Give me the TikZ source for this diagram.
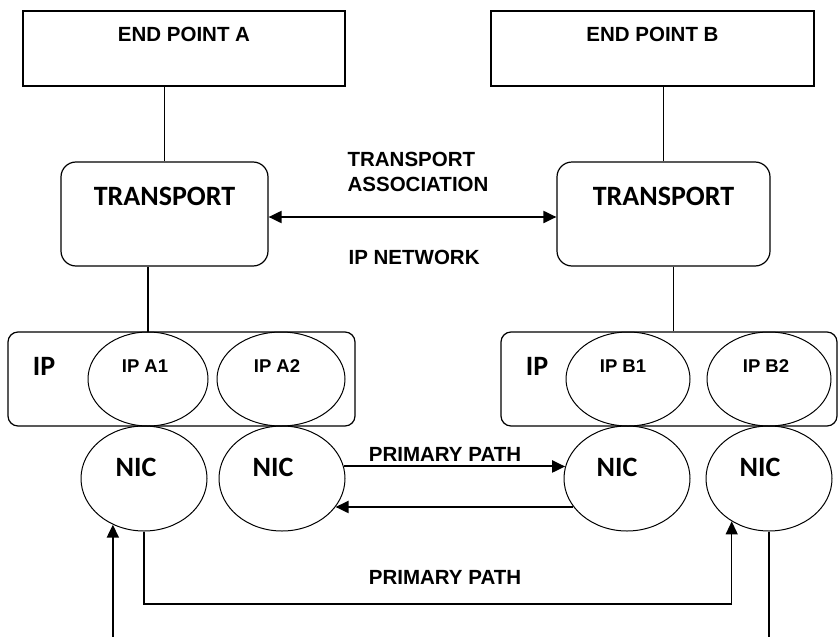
\documentclass[tikz,border=0pt]{standalone}
\usepackage{fontspec}
\setmainfont{Liberation Sans}
\newfontfamily\calfont{Carlito}
\usetikzlibrary{arrows.meta,shapes.geometric}

\begin{document}
\begin{tikzpicture}[x=1pt, y=-1pt, line width=1.2pt,
  every node/.style={font=\bfseries\fontsize{20.5}{25}\selectfont},
  >={Triangle[length=13pt,width=12pt]},
  ep/.style={draw, inner sep=0, minimum width=322pt, text height=30pt, text depth=45pt},
  tr/.style={draw, rounded corners=15pt, inner sep=0, text height=43pt, text depth=61pt,
    font=\calfont\bfseries\fontsize{28}{30}\selectfont},
  ipbox/.style={draw, rounded corners=10pt, minimum height=94pt, inner sep=0},
  el/.style={draw, ellipse, line width=1pt, inner sep=0, minimum width=124pt},
  ipe/.style={el, minimum height=94pt},
  nic/.style={el, minimum width=126pt, minimum height=105pt},
  big/.style={font=\calfont\bfseries\fontsize{28}{30}\selectfont},
  small/.style={font=\bfseries\fontsize{18.5}{20}\selectfont},
  txt/.style={inner sep=0},
  arr/.style={->, line width=2pt}]
\useasboundingbox (0,0) rectangle (838,637);

% end points and transport layer
\node[ep] (epA) at (184,48.5) {END POINT A};
\node[ep, minimum width=323pt] (epB) at (652.5,48.5) {END POINT B};
\node[tr, minimum width=207pt] (trA) at (164.5,214) {TRANSPORT};
\node[tr, minimum width=213pt] (trB) at (663.5,214) {TRANSPORT};
\node[txt, anchor=west, align=left] (assoc) at (347,171.5) {TRANSPORT\\ASSOCIATION};
\node[txt, anchor=west] (ipnet) at (348,257.5) {IP NETWORK};

% IP layer with its addresses
\node[ipbox, minimum width=347pt] (ipA) at (181.5,379) {};
\node[ipbox, minimum width=336pt] (ipB) at (669,379) {};
\node[big] (ipAtxt) at (44,366) {IP};
\node[big] (ipBtxt) at (537,366) {IP};
\node[ipe, minimum width=120pt, label={[small,xshift=-3pt,yshift=12.5pt]center:IP A1}] (ipA1) at (148,379) {};
\node[ipe, minimum width=128pt, label={[small,xshift=-4pt,yshift=12.5pt]center:IP A2}] (ipA2) at (281,379) {};
\node[ipe, label={[small,xshift=-5pt,yshift=12.5pt]center:IP B1}] (ipB1) at (628,379) {};
\node[ipe, label={[small,xshift=-3pt,yshift=12.5pt]center:IP B2}] (ipB2) at (769,379) {};

% network cards
\node[nic, label={[big,xshift=-8pt,yshift=11pt]center:NIC}] (nicA1) at (144,478.5) {};
\node[nic, label={[big,xshift=-9pt,yshift=11pt]center:NIC}] (nicA2) at (282,478.5) {};
\node[nic, label={[big,xshift=-10pt,yshift=11pt]center:NIC}] (nicB1) at (627,478.5) {};
\node[nic, label={[big,xshift=-9pt,yshift=11pt]center:NIC}] (nicB2) at (769,478.5) {};
\node (prim1) at (445,454) {PRIMARY PATH};
\node (prim2) at (445,577.5) {PRIMARY PATH};

\coordinate (low) at (0,604);
\coordinate (inA) at (nicA1.-124 |- 0,637);
\coordinate (outB) at (nicB2.south |- 0,637);

\draw (epA.south -| trA.north) -- (trA.north);
\draw (epB.south -| trB.north) -- (trB.north);
\draw (trA.south -| ipA1.north) -- (ipA1.north);
\draw ([xshift=10pt]trB.south) -- ([xshift=10pt]trB.south |- ipB.north);
\draw[arr, <->] ([yshift=-3pt]trA.east) -- ([yshift=-3pt]trB.west);
\draw[arr] (nicA2.11) -- (nicB1.169);
\draw[arr] (nicB1.-152) -- (nicA2.-28);
\draw[arr, line width=1.4pt] (nicA1.south) -- (nicA1.south |- low) -| (nicB2.-131);
\draw[arr] (inA) -- (nicA1.-124);
\draw (nicB2.south) -- (outB);
\end{tikzpicture}
\end{document}
